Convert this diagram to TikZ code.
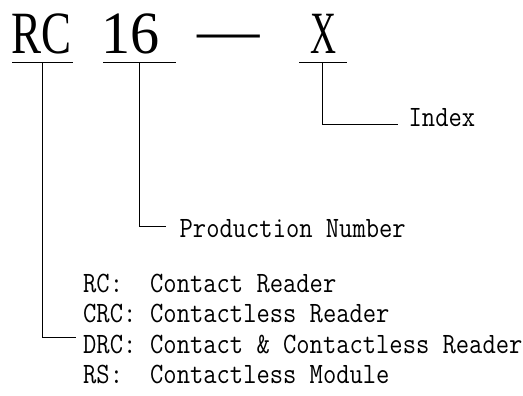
\documentclass[tikz,border=0pt]{standalone}
\usepackage{fontspec}
\usepackage{graphicx}
\newfontfamily\bigserif{Liberation Serif}
\tikzset{
  big/.style={inner sep=0pt, anchor=base, font=\bigserif\fontsize{60}{60}\selectfont},
  mono/.style={inner sep=0pt, anchor=base west},
  uline/.style={line width=1.7pt},
  lead/.style={line width=0.9pt},
}
\newcommand\mtxt[1]{\scalebox{0.875}[1]{\fontsize{29.5}{30}\selectfont\ttfamily #1}}
\begin{document}
\begin{tikzpicture}[x=1pt,y=-1pt]
\useasboundingbox (0,0) rectangle (523,396);
% big code
\node[big] (rc) at (41.7,53.5) {\scalebox{0.75}[1]{RC}};
\node[big] (sixteen) at (130.5,53.5) {\scalebox{0.97}[1]{16}};
\node[big] (dash) at (228.6,51) {\scalebox{1.04}[1]{—}};
\node[big] (xx) at (323.5,53.5) {\scalebox{0.6}[1]{X}};
% underlines
\coordinate (rcL) at (12,62.5);   \coordinate (rcR) at (73,62.5);
\coordinate (sxL) at (103,62.5);  \coordinate (sxR) at (176,62.5);
\coordinate (xL) at (299,62.5);   \coordinate (xR) at (346.5,62.5);
\draw[uline] (rcL) -- (rcR);
\draw[uline] (sxL) -- (sxR);
\draw[uline] (xL) -- (xR);
% labels
\node[mono] (index) at (408.5,127) {\mtxt{Index}};
\node[mono] (prod) at (179.5,237) {\mtxt{Production Number}};
\node[mono] (k1) at (83,292) {\mtxt{RC:}};
\node[mono] (v1) at (150,292) {\mtxt{Contact Reader}};
\node[mono] (k2) at (83,322.5) {\mtxt{CRC:}};
\node[mono] (v2) at (150,322.5) {\mtxt{Contactless Reader}};
\node[mono] (k3) at (83,353) {\mtxt{DRC:}};
\node[mono] (v3) at (150,353) {\mtxt{Contact \& Contactless Reader}};
\node[mono] (k4) at (83,383.5) {\mtxt{RS:}};
\node[mono] (v4) at (150,383.5) {\mtxt{Contactless Module}};
% leaders
\coordinate (rcTap) at (42,62.5);     \coordinate (rcEnd) at (76,337);
\coordinate (sxTap) at (139.3,62.5);  \coordinate (sxEnd) at (166,226);
\coordinate (xTap) at (322.3,62.5);   \coordinate (xEnd) at (398,124.5);
\draw[lead] (rcTap) |- (rcEnd);
\draw[lead] (sxTap) |- (sxEnd);
\draw[lead] (xTap) |- (xEnd);
\end{tikzpicture}
\end{document}
